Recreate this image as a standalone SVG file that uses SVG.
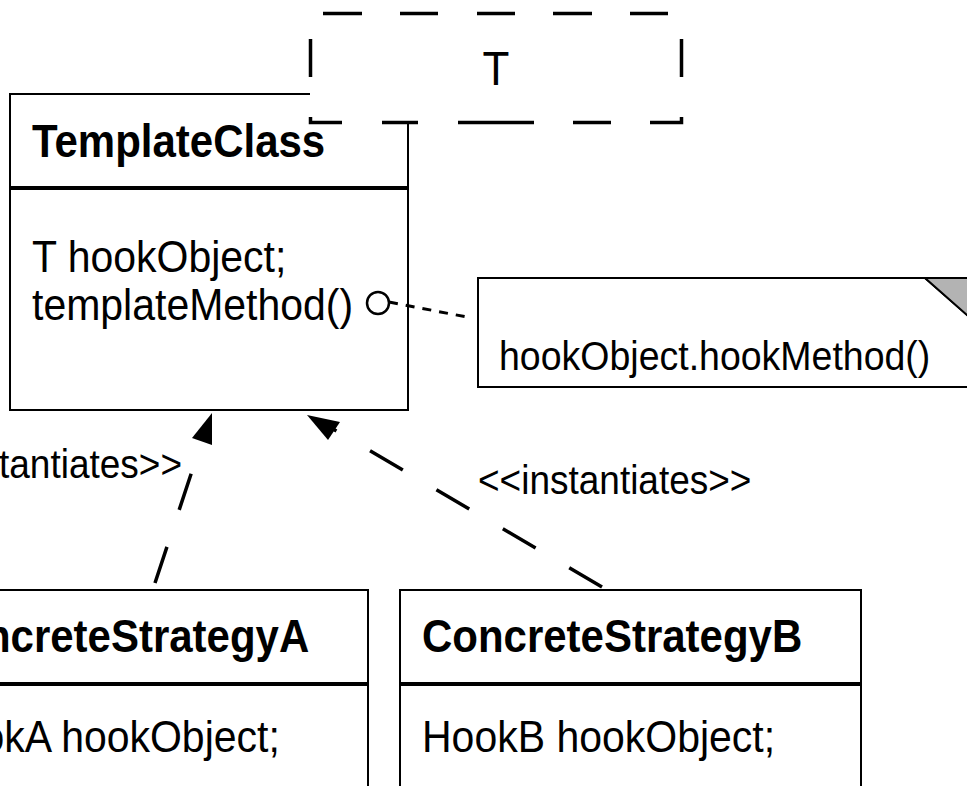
<svg xmlns="http://www.w3.org/2000/svg" width="967" height="786" viewBox="0 0 967 786">
<style>
.box{fill:#fff;stroke:#000;stroke-width:2}
.t{font-family:"Liberation Sans",Arial,Helvetica,sans-serif;fill:#000}
.title{font-size:42px;font-weight:bold}
.attr{font-size:41px}
.lbl{font-size:37px}
.dash{fill:none;stroke:#000;stroke-width:3.5;stroke-dasharray:38 39}
.tbox{fill:none;stroke:#000;stroke-width:3.5}
</style>
<rect x="0" y="0" width="967" height="786" fill="#fff"/>

<g id="TemplateClass">
  <rect class="box" x="10" y="94" width="398" height="93"/>
  <rect class="box" x="10" y="189" width="398" height="221"/>
  <text class="t title" transform="translate(32,157) scale(1,1.1)">TemplateClass</text>
  <text class="t attr" transform="translate(32,272) scale(1,1.1)">T hookObject;</text>
  <text class="t attr" transform="translate(32,320) scale(1,1.1)">templateMethod()</text>
  <circle cx="378" cy="303" r="11" fill="#fff" stroke="#000" stroke-width="2.5"/>
</g>

<g id="T">
  <rect x="310" y="13" width="371" height="110" fill="#fff"/>
  <path class="tbox" d="M323,13.5H362M400,13.5H438M477,13.5H515M553,13.5H592M630,13.5H668
    M310.5,39V77M681.5,39V77
    M310.5,117V122.5H342M382,122.5H418M458,122.5H534M573,122.5H611M650,122.5H681.5V117"/>
  <text class="t" font-size="44" text-anchor="middle" transform="translate(496,85) scale(1,1.1)">T</text>
</g>

<g id="Note">
  <path d="M478,278H925L975,322V387H478Z" fill="#fff" stroke="#000" stroke-width="2"/>
  <path d="M925,278H975V322Z" fill="#b3b3b3" stroke="#000" stroke-width="2"/>
  <text class="t" font-size="37.5" transform="translate(499,370) scale(1,1.1)">hookObject.hookMethod()</text>
</g>

<g id="ConcreteStrategyA">
  <rect class="box" x="-93" y="590" width="461" height="93"/>
  <rect class="box" x="-93" y="685" width="461" height="140"/>
  <text class="t title" transform="translate(-71,652) scale(1,1.1)">ConcreteStrategyA</text>
  <text class="t attr" transform="translate(-71,752) scale(1,1.1)">HookA hookObject;</text>
</g>

<g id="ConcreteStrategyB">
  <rect class="box" x="400" y="590" width="461" height="93"/>
  <rect class="box" x="400" y="685" width="461" height="140"/>
  <text class="t title" transform="translate(422,652) scale(1,1.1)">ConcreteStrategyB</text>
  <text class="t attr" transform="translate(422,752) scale(1,1.1)">HookB hookObject;</text>
</g>

<g id="connectors">
  <path d="M389,302L472,318" fill="none" stroke="#000" stroke-width="3" stroke-dasharray="9 8"/>
  <path class="dash" d="M155,583L202,441"/>
  <path d="M212,413L192,438L212,445Z" fill="#000"/>
  <path class="dash" d="M602,587L333,429"/>
  <path d="M307,415L340,422L328,440Z" fill="#000"/>
  <text class="t lbl" text-anchor="end" transform="translate(182,478) scale(1,1.1)">&lt;&lt;instantiates&gt;&gt;</text>
  <text class="t lbl" transform="translate(478,494) scale(1,1.1)">&lt;&lt;instantiates&gt;&gt;</text>
</g>
</svg>
